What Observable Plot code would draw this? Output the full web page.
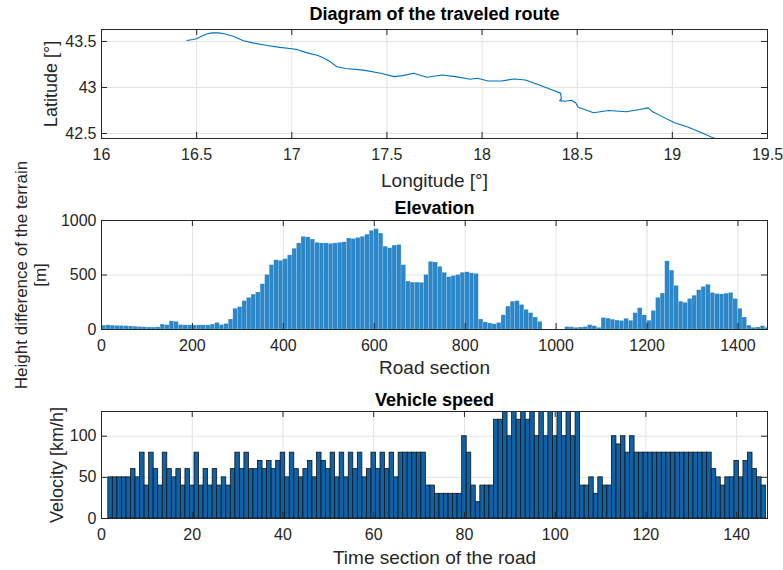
<!DOCTYPE html>
<html><head><meta charset="utf-8">
<script src="https://cdn.jsdelivr.net/npm/d3@7"></script>
<script src="https://cdn.jsdelivr.net/npm/@observablehq/plot@0.6"></script>
<style>
body{margin:0;background:#fff;}
#chart{width:783px;height:570px;position:relative;background:#fff;}
#chart svg{display:block;overflow:visible;background:transparent;}
</style></head><body><div id="chart"></div>
<script>
// ---- Route (longitude / latitude) ----
const longitude = [16.449,16.482,16.5,16.523,16.551,16.581,16.615,16.65,16.696,16.742,16.8,16.869,16.938,17.0,17.03,17.076,17.134,17.168,17.203,17.237,17.283,17.376,17.468,17.537,17.583,17.641,17.71,17.79,17.859,17.94,17.975,18.032,18.101,18.17,18.228,18.297,18.366,18.412,18.417,18.408,18.435,18.47,18.493,18.505,18.539,18.585,18.666,18.758,18.827,18.873,18.896,18.942,19.011,19.081,19.15,19.219,19.25];
const latitude = [43.511,43.521,43.529,43.554,43.582,43.593,43.593,43.582,43.554,43.511,43.482,43.457,43.436,43.421,43.411,43.379,43.35,43.321,43.279,43.225,43.207,43.189,43.154,43.118,43.129,43.154,43.111,43.136,43.118,43.089,43.1,43.071,43.071,43.093,43.082,43.029,42.975,42.939,42.879,42.857,42.85,42.861,42.832,42.786,42.761,42.725,42.75,42.736,42.761,42.779,42.736,42.689,42.618,42.571,42.511,42.45,42.44];
const lonTicks = [16,16.5,17,17.5,18,18.5,19,19.5];
const latTicks = [42.5,43,43.5];

// ---- Elevation (road section, step 10) ----
const roadSection = d3.range(0, 1470, 10);
const elevation = [35,38,35,33,32,30,28,25,22,20,
18,18,20,45,40,75,70,40,38,38,
37,38,38,37,45,60,40,50,92,190,
205,260,290,320,340,415,500,590,635,630,
645,680,740,790,850,845,825,795,790,790,
785,790,795,800,835,830,840,850,870,905,
920,880,760,745,770,775,590,440,430,430,
428,500,620,615,575,520,480,490,500,520,
525,515,510,92,65,55,48,60,130,210,
255,260,225,180,150,110,70,0,0,0,
0,0,22,20,15,18,22,40,30,15,
105,100,90,82,78,98,80,150,195,130,
80,170,290,330,625,540,400,255,245,280,
310,360,390,410,335,325,322,328,335,280,
190,110,35,15,18,30,15];
const roadTicks = [0,200,400,600,800,1000,1200,1400];
const elevTicks = [0,500,1000];

// ---- Vehicle speed (time section 2..146) ----
const timeSection = d3.range(2, 147);
const speed = [50,50,50,50,50,
60,50,80,40,80,60,40,80,60,50,
60,40,60,40,80,40,60,40,60,40,
50,40,60,80,60,80,60,60,70,60,
70,60,70,80,50,80,60,50,60,70,
50,80,70,60,80,50,80,50,80,60,
80,50,60,80,60,80,60,80,50,80,
80,80,80,80,80,40,40,30,30,30,
30,30,30,100,80,40,20,40,40,40,
120,120,130,100,130,120,130,120,130,100,
130,100,130,100,130,100,130,100,130,40,
40,50,30,50,40,40,100,90,100,80,
100,80,80,80,80,80,80,80,80,80,
80,80,80,80,80,80,80,80,60,50,
40,50,50,70,50,70,80,60,50,40];
const timeTicks = [0,20,40,60,80,100,120,140];
const speedTicks = [0,50,100];

const routeData = longitude.map((lon, i) => ({lon, lat: latitude[i]}));
const elevData = roadSection.map((x, i) => ({x, h: elevation[i]}));
const speedData = timeSection.map((t, i) => ({t, v: speed[i]}));

const FONT = "'Liberation Sans', Arial, Helvetica, sans-serif";
const AX = "#262626";
const GRID = "#e2e2e2";
const W = 783, ML = 101, MR = 16;

function panel({height, marginTop, marginBottom, xDomain, yDomain, xTicks, yTicks, marks, title, titleDy, xLabel, xLabelDy, yLabel, yLabelDx, yLabelSize = 18}) {
  const fh = height - marginTop - marginBottom;
  const fw = W - ML - MR;
  return Plot.plot({
    width: W, height, marginLeft: ML, marginRight: MR, marginTop, marginBottom,
    style: {fontFamily: FONT, fontSize: "16px", background: "transparent", overflow: "visible"},
    x: {domain: xDomain, axis: null},
    y: {domain: yDomain, axis: null},
    marks: [
      Plot.gridX(xTicks, {stroke: GRID, strokeOpacity: 1}),
      Plot.gridY(yTicks, {stroke: GRID, strokeOpacity: 1}),
      ...marks,
      Plot.frame({stroke: AX, strokeWidth: 1}),
      Plot.ruleX(xTicks, {x: d => d, insetTop: fh - 6, stroke: AX}),
      Plot.ruleX(xTicks, {x: d => d, insetBottom: fh - 6, stroke: AX}),
      Plot.ruleY(yTicks, {y: d => d, insetRight: fw - 6, stroke: AX}),
      Plot.ruleY(yTicks, {y: d => d, insetLeft: fw - 6, stroke: AX}),
      Plot.axisX(xTicks, {tickSize: 0, tickPadding: 10, label: null, tickFormat: d => String(d), fill: AX, fontSize: 16}),
      Plot.axisY(yTicks, {tickSize: 0, tickPadding: 5, label: null, tickFormat: d => String(d), fill: AX, fontSize: 16}),
      Plot.text([title], {text: d => d, frameAnchor: "top", dy: titleDy, fontSize: 18, fontWeight: "bold", fill: "#000", lineAnchor: "middle", textAnchor: "middle"}),
      Plot.text([xLabel], {text: d => d, frameAnchor: "bottom", dy: xLabelDy, fontSize: 19, fill: AX, lineAnchor: "middle", textAnchor: "middle"}),
      Plot.text([yLabel], {text: d => d, frameAnchor: "left", dx: yLabelDx, rotate: -90, fontSize: yLabelSize, fill: AX, lineAnchor: "middle", textAnchor: "middle", lineHeight: 1.12})
    ]
  });
}

const chart = document.getElementById("chart");

chart.append(panel({
  height: 192, marginTop: 29, marginBottom: 54,
  xDomain: [16, 19.5], yDomain: [42.446, 43.63],
  xTicks: lonTicks, yTicks: latTicks,
  marks: [Plot.line(routeData, {x: "lon", y: "lat", stroke: "#0072BD", strokeWidth: 1.1, clip: true})],
  title: "Diagram of the traveled route", titleDy: -15,
  xLabel: "Longitude [°]", xLabelDy: 42,
  yLabel: "Latitude [°]", yLabelDx: -51
}));

chart.append(panel({
  height: 191, marginTop: 28, marginBottom: 54,
  xDomain: [0, 1465], yDomain: [0, 1000],
  xTicks: roadTicks, yTicks: elevTicks,
  marks: [Plot.rectY(elevData, {x1: "x", x2: d => d.x + 10, y: "h", fill: "#2b87c8", stroke: "#ffffff", strokeOpacity: 0.3, strokeWidth: 0.5, inset: 0, clip: true})],
  title: "Elevation", titleDy: -12,
  xLabel: "Road section", xLabelDy: 38,
  yLabel: "Height difference of the terrain\n[m]", yLabelDx: -71, yLabelSize: 17
}));

chart.append(panel({
  height: 187, marginTop: 28, marginBottom: 52,
  xDomain: [0, 146.8], yDomain: [0, 130],
  xTicks: timeTicks, yTicks: speedTicks,
  marks: [Plot.rectY(speedData, {x1: d => d.t - 0.5, x2: d => d.t + 0.5, y: "v", fill: "#0e63a8", stroke: "#141414", strokeWidth: 0.8, inset: 0, clip: true})],
  title: "Vehicle speed", titleDy: -11,
  xLabel: "Time section of the road", xLabelDy: 39,
  yLabel: "Velocity [km/h]", yLabelDx: -45
}));
</script></body></html>
